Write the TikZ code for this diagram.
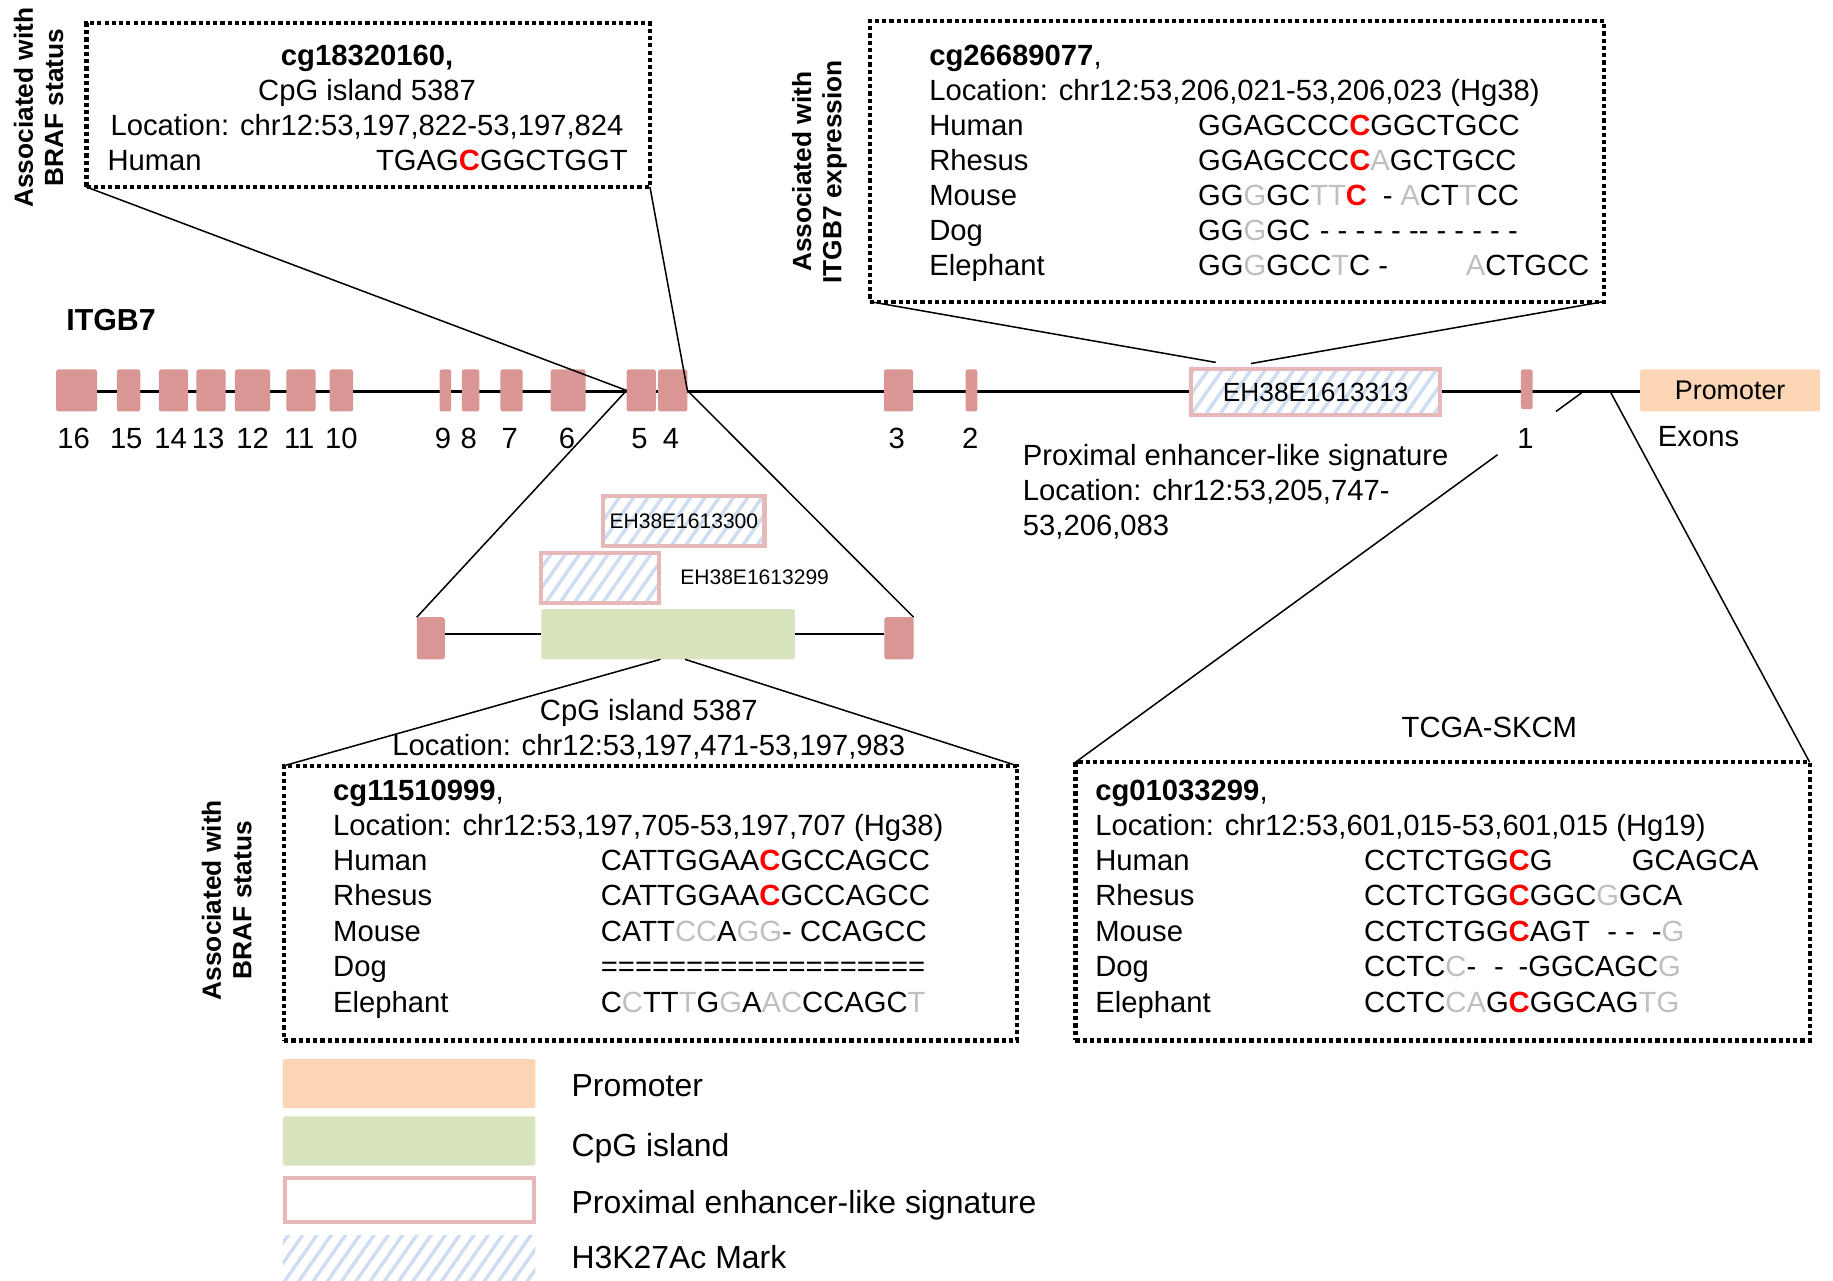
\documentclass[tikz,border=0pt]{standalone}
\usepackage{fontspec}
\setmainfont{Liberation Sans}
\usetikzlibrary{patterns.meta,calc}
\definecolor{exon}{HTML}{D99694}
\definecolor{pelsb}{HTML}{E6B9B8}
\definecolor{prom}{HTML}{FCD5B5}
\definecolor{cpgc}{HTML}{D7E4BD}
\definecolor{hatchc}{HTML}{CFDDF0}
\definecolor{grayc}{HTML}{BFBFBF}
\newcommand{\redC}{\textcolor{red}{\bfseries C}}
\newcommand{\grayt}[1]{\textcolor{grayc}{#1}}
\tikzset{
  every node/.style={inner sep=0pt, outer sep=0pt},
  fnt/.style={font=\fontsize{25}{30}\selectfont},
  tl/.style={fnt, anchor=base west},
  tc/.style={fnt, anchor=base},
  tr/.style={fnt, anchor=base east},
  lgt/.style={font=\fontsize{27.3}{32}\selectfont, anchor=base west},
  smt/.style={font=\fontsize{18}{22}\selectfont},
  dotbox/.style={draw, line width=3.6pt, dash pattern=on 3.6pt off 2.6pt},
  exonb/.style={fill=exon, rounded corners=2pt, minimum height=36pt},
  hatch/.style={pattern={Lines[angle=55,distance=10pt,line width=3pt]}, pattern color=hatchc},
  pels/.style={draw=pelsb, line width=3.5pt, preaction={fill=white}, hatch},
  conn/.style={line width=1.3pt},
  geneline/.style={line width=2pt},
  rotlab/.style={rotate=90, align=center, font=\fontsize{22.5}{26}\selectfont\bfseries},
}
\begin{document}
\begin{tikzpicture}[x=1pt,y=-1pt]
\useasboundingbox (0,0) rectangle (1568,1095);

% gene line
\coordinate (gl) at (48,335);
\coordinate (gr) at (1403,335);
\draw[geneline] (gl) -- (gr);

% exons
\foreach \n/\c/\w in {16/65.5/35, 15/110/20, 14/148.5/25, 13/180.5/25, 12/216/30, 11/257.5/25, 10/292/20, 9/381/10, 8/402.5/15, 7/437.5/19, 6/486/30, 5/548.5/25, 4/575.5/25, 3/768.5/25, 2/831/10}
  \node[exonb, minimum width=\w pt] (e\n) at (\c,334) {};
\node[exonb, minimum width=10pt, minimum height=34pt] (e1) at (1306,333) {};
\foreach \n/\x in {16/63, 15/108, 14/146, 13/178, 12/216, 11/256, 10/292, 9/379, 8/401, 7/436, 6/485, 5/547, 4/574, 3/767, 2/830, 1/1305}
  \node[tc] (l\n) at (\x,384) {\n};

\node[font=\fontsize{26}{30}\selectfont\bfseries] (gene) at (95,274) {ITGB7};

% enhancer and promoter on the gene line
\node[pels, minimum width=213pt, minimum height=39pt, font=\fontsize{22.5}{26}\selectfont] (enh) at (1125.5,335.5) {EH38E1613313};
\node[fill=prom, rounded corners=2pt, minimum width=154pt, minimum height=36pt, font=\fontsize{23}{26}\selectfont] (prom) at (1480,334) {Promoter};
\node[tc] (exons) at (1453,382) {Exons};

\node[tl] (px1) at (875,398) {Proximal enhancer-like signature};
\node[tl] (px2) at (875,428) {Location: chr12:53,205,747-};
\node[tl] (px3) at (875,458) {53,206,083};

% zoomed region
\node[exonb, minimum width=24pt] (ze1) at (368.5,546) {};
\node[exonb, minimum width=25pt] (ze2) at (769,546) {};
\node[fill=cpgc, rounded corners=2pt, minimum width=217pt, minimum height=43pt] (cpg) at (571.5,542.5) {};
\draw[geneline] (ze1.east |- cpg.west) -- (cpg.west);
\draw[geneline] (cpg.east) -- (ze2.west |- cpg.east);
\node[pels, minimum width=138pt, minimum height=43pt, smt] (p300) at (585,445.5) {EH38E1613300};
\node[pels, minimum width=101pt, minimum height=43pt] (p299) at (513.5,494.5) {};
\node[smt, anchor=west] (p299l) at (582,494) {EH38E1613299};
\node[tc] (cpgt1) at (555,616) {CpG island 5387};
\node[tc] (cpgt2) at (555,646) {Location: chr12:53,197,471-53,197,983};
\node[tc] (tcga) at (1274,631) {TCGA-SKCM};

% boxes
\node[dotbox, minimum width=482pt, minimum height=140pt] (b1) at (315,90) {};
\node[dotbox, minimum width=628pt, minimum height=240pt] (b2) at (1058,138) {};
\node[dotbox, minimum width=627pt, minimum height=235pt] (b3) at (556.5,772.5) {};
\node[dotbox, minimum width=628pt, minimum height=238pt] (b4) at (1234,771) {};

\node[rotlab] (r1) at (33,92) {Associated with\\BRAF status};
\node[rotlab] (r2) at (701,147) {Associated with\\ITGB7 expression};
\node[rotlab] (r3) at (194,770) {Associated with\\BRAF status};

% box 1
\node[tc, font={\fontsize{25}{30}\selectfont\bfseries}] (t1a) at (314,56) {cg18320160,};
\node[tc] (t1b) at (314,86) {CpG island 5387};
\node[tc] (t1c) at (314,116) {Location: chr12:53,197,822-53,197,824};
\node[tl] (t1d) at (92,146) {Human};
\node[tr] (t1e) at (537,146) {TGAG\redC GGCTGGT};

% box 2
\node[tl] (t2a) at (795,56) {\textbf{cg26689077},};
\node[tl] (t2b) at (795,86) {Location: chr12:53,206,021-53,206,023 (Hg38)};
\node[tl] (t2c) at (795,116) {Human};
\node[tl] (t2d) at (795,146) {Rhesus};
\node[tl] (t2e) at (795,176) {Mouse};
\node[tl] (t2f) at (795,206) {Dog};
\node[tl] (t2g) at (795,236) {Elephant};
\node[tl] (s2c) at (1025,116) {GGAGCCC\redC GGCTGCC};
\node[tl] (s2d) at (1025,146) {GGAGCCC\redC\grayt{A}GCTGCC};
\node[tl] (s2e) at (1025,176) {GG\grayt{G}GC\grayt{TT}\redC};
\node[tl] (s2e2) at (1183,176) {-};
\node[tl] (s2e3) at (1198,176) {\grayt{A}CT\grayt{T}CC};
\node[tl] (s2f) at (1025,206) {GG\grayt{G}GC};
\node[tl] (s2f2) at (1129,206) {- - - - - -{}- - - - - -};
\node[tl] (s2g) at (1025,236) {GG\grayt{G}GCC\grayt{T}C -};
\node[tl] (s2g2) at (1254,236) {\grayt{A}CTGCC};

% box 3
\node[tl] (t3a) at (285,685) {\textbf{cg11510999},};
\node[tl] (t3b) at (285,715) {Location: chr12:53,197,705-53,197,707 (Hg38)};
\node[tl] (t3c) at (285,745) {Human};
\node[tl] (t3d) at (285,775) {Rhesus};
\node[tl] (t3e) at (285,805) {Mouse};
\node[tl] (t3f) at (285,835) {Dog};
\node[tl] (t3g) at (285,866) {Elephant};
\node[tl] (s3c) at (514,745) {CATTGGAA\redC GCCAGCC};
\node[tl] (s3d) at (514,775) {CATTGGAA\redC GCCAGCC};
\node[tl] (s3e) at (514,805) {CATT\grayt{CC}A\grayt{GG}- CCAGCC};
\node[tl] (s3f) at (514,835) {===================};
\node[tl] (s3g) at (514,866) {C\grayt{C}TT\grayt{T}G\grayt{G}A\grayt{AC}CCAGC\grayt{T}};

% box 4
\node[tl] (t4a) at (937,685) {\textbf{cg01033299},};
\node[tl] (t4b) at (937,715) {Location: chr12:53,601,015-53,601,015 (Hg19)};
\node[tl] (t4c) at (937,745) {Human};
\node[tl] (t4d) at (937,775) {Rhesus};
\node[tl] (t4e) at (937,805) {Mouse};
\node[tl] (t4f) at (937,835) {Dog};
\node[tl] (t4g) at (937,866) {Elephant};
\node[tl] (s4c) at (1167,745) {CCTCTGG\redC G};
\node[tl] (s4c2) at (1396,745) {GCAGCA};
\node[tl] (s4d) at (1167,775) {CCTCTGG\redC GGC\grayt{G}GCA};
\node[tl] (s4e) at (1167,805) {CCTCTGG\redC AGT};
\node[tl] (s4e2) at (1375,805) {- -};
\node[tl] (s4e3) at (1413,805) {-\grayt{G}};
\node[tl] (s4f) at (1167,835) {CCTC\grayt{C}-};
\node[tl] (s4f2) at (1278,835) {-};
\node[tl] (s4f3) at (1299,835) {-GGCAGC\grayt{G}};
\node[tl] (s4g) at (1167,866) {CCTC\grayt{CA}G\redC GGCAG\grayt{TG}};

% connectors
\draw[conn] (b1.south west) -- (e5.west);
\draw[conn] (b1.south east) -- (e4.east);
\draw[conn] (e5.west) -- (ze1.north west);
\draw[conn] (e4.east) -- (ze2.north east);
\coordinate (c2a) at (1040,310);
\coordinate (c2b) at (1070,311);
\draw[conn] (b2.south west) -- (c2a);
\draw[conn] (b2.south east) -- (c2b);
\coordinate (c3a) at (565,564);
\coordinate (c3b) at (586,564);
\draw[conn] (c3a) -- (b3.north west);
\draw[conn] (c3b) -- (b3.north east);
\coordinate (c4a) at (1281,389);
\coordinate (c4b) at (1331,352);
\coordinate (c4c) at (1353,336);
\coordinate (c4d) at (1378,336);
\draw[conn] (b4.north west) -- (c4a);
\draw[conn] (c4b) -- (c4c);
\draw[conn] (c4d) -- (b4.north east);

% legend
\node[fill=prom, rounded corners=2pt, minimum width=216pt, minimum height=42pt] (lg1) at (350,927) {};
\node[fill=cpgc, rounded corners=2pt, minimum width=216pt, minimum height=42pt] (lg2) at (350,976) {};
\node[draw=pelsb, line width=3.5pt, fill=white, minimum width=213pt, minimum height=38pt] (lg3) at (350,1026.5) {};
\node[hatch, minimum width=216pt, minimum height=38pt] (lg4) at (350,1076) {};
\node[lgt] (lt1) at (489,938) {Promoter};
\node[lgt] (lt2) at (489,989) {CpG island};
\node[lgt] (lt3) at (489,1038) {Proximal enhancer-like signature};
\node[lgt] (lt4) at (489,1085) {H3K27Ac Mark};
\end{tikzpicture}
\end{document}
